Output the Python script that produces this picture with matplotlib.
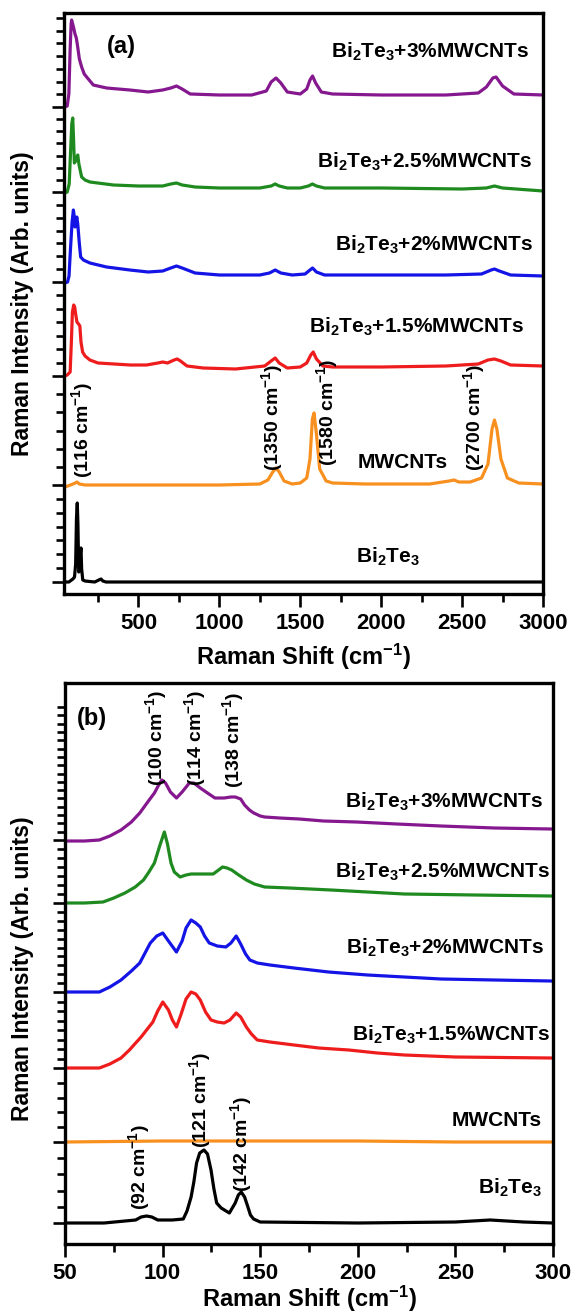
import numpy as np
import matplotlib
matplotlib.use('Agg')
import matplotlib.pyplot as plt
from matplotlib.ticker import FixedLocator, MultipleLocator

plt.rcParams['font.family'] = ['Liberation Sans', 'DejaVu Sans']
plt.rcParams['font.weight'] = 'bold'
plt.rcParams['mathtext.fontset'] = 'custom'
plt.rcParams['mathtext.rm'] = 'Liberation Sans:bold'
plt.rcParams['mathtext.it'] = 'Liberation Sans:bold'
plt.rcParams['mathtext.bf'] = 'Liberation Sans:bold'

# ---- panel (a): 40-3000 cm-1, intensities stacked (arb. units) ----
a_bi_x = [45, 70, 95, 105, 112, 117, 122, 126, 131, 137, 142, 145, 149, 156, 170, 230, 255, 269, 280, 300, 500, 1000, 1500, 2000, 2500, 3000]
a_bi_y = [12, 12, 15, 17, 30, 75, 91, 70, 22, 24, 42, 46, 25, 14, 13, 12, 14, 15, 13, 12, 12, 12, 12, 12, 12, 12]

a_cnt_x = [45, 80, 110, 120, 135, 170, 300, 600, 1000, 1250, 1300, 1330, 1350, 1370, 1400, 1450, 1500, 1540, 1560, 1575, 1585,
           1600, 1620, 1660, 1700, 1900, 2300, 2420, 2450, 2480, 2550, 2620, 2660, 2685, 2700, 2715, 2740, 2780, 2850, 3000]
a_cnt_y = [107, 109, 111, 112, 110, 109, 109, 109, 109, 110, 114, 122, 126, 122, 113, 110, 111, 116, 135, 175, 181,
           160, 125, 113, 111, 110, 110, 113, 114, 112, 112, 116, 130, 165, 174, 165, 135, 116, 111, 110]

a_15_x = [45, 60, 78, 85, 92, 100, 106, 112, 120, 130, 138, 145, 155, 170, 200, 250, 350, 450, 550, 620, 650, 680, 720, 740, 760,
          800, 900, 1100, 1280, 1320, 1345, 1370, 1420, 1500, 1540, 1565, 1580, 1600, 1640, 1700, 2000, 2400, 2600, 2660, 2700,
          2740, 2800, 3000]
a_15_y = [218, 219, 222, 250, 282, 289, 287, 280, 272, 270, 268, 252, 242, 238, 234, 231, 230, 229, 229, 231, 232, 231, 234, 235, 233,
          228, 226, 225, 228, 233, 236, 231, 226, 227, 231, 239, 242, 235, 228, 227, 227, 228, 230, 234, 235,
          233, 229, 228]

a_2_x = [45, 62, 71, 80, 90, 98, 103, 108, 114, 119, 125, 135, 143, 160, 200, 303, 447, 560, 650, 700, 735, 770, 850, 1000, 1250,
         1310, 1345, 1380, 1450, 1530, 1560, 1576, 1600, 1650, 2000, 2400, 2620, 2680, 2700, 2730, 2800, 3000]
a_2_y = [311, 312, 318, 345, 372, 384, 378, 367, 372, 377, 370, 350, 337, 334, 331, 327, 324, 322, 323, 326, 328, 326, 321, 319, 319,
         321, 324, 321, 319, 320, 324, 326, 322, 319, 319, 319, 320, 324, 325, 323, 319, 318]

a_25_x = [45, 60, 72, 80, 88, 94, 99, 104, 112, 120, 125, 132, 149, 170, 200, 345, 500, 650, 700, 735, 770, 850, 1000, 1250, 1320,
          1345, 1370, 1420, 1500, 1550, 1575, 1600, 1650, 2000, 2500, 2650, 2700, 2750, 3000]
a_25_y = [401, 402, 410, 440, 470, 476, 455, 431, 433, 437, 439, 430, 417, 414, 412, 409, 408, 408, 410, 411, 409, 407, 406, 406, 408,
          410, 408, 406, 406, 408, 410, 408, 406, 406, 405, 406, 408, 406, 403]

a_3_x = [45, 60, 70, 78, 84, 87, 92, 100, 108, 116, 122, 135, 149, 165, 180, 221, 303, 447, 560, 650, 700, 735, 770, 820, 1000,
         1200, 1290, 1320, 1350, 1380, 1420, 1500, 1540, 1560, 1576, 1595, 1630, 1700, 2000, 2400, 2600, 2650, 2690, 2710, 2750,
         2820, 3000]
a_3_y = [487, 488, 500, 545, 570, 574, 571, 566, 560, 556, 550, 535, 527, 520, 517, 509, 506, 504, 502, 504, 506, 508, 505, 500, 499,
         499, 503, 512, 516, 511, 502, 500, 505, 514, 518, 511, 502, 500, 499, 499, 501, 507, 516, 517, 508,
         500, 499]

# ---- panel (b): 50-300 cm-1 ----
b_bi_x = [50, 70, 86.2, 89, 91.8, 94.5, 97.5, 105, 110.6, 112.5, 114.6, 116, 117.4, 119, 121.2, 123, 124.8, 126.3, 127.7, 130,
          134.2, 137.2, 138.8, 140.3, 142, 143.7, 145, 146.6, 150, 200, 250, 267.8, 285, 300]
b_bi_y = [21, 21, 24, 27, 28, 27, 24, 24, 25, 33, 47, 62, 81, 91, 94, 90, 74, 55, 41, 36,
          31, 41, 49, 52, 47, 37, 29, 25, 22, 21, 22, 24, 22, 21]

b_cnt_x = [50, 100, 150, 200, 250, 300]
b_cnt_y = [102, 103, 103, 103, 102, 102]

b_15_x = [50, 60, 67.6, 73, 78.7, 83, 86.2, 89, 91.8, 95, 97.5, 100.1, 103, 105, 107.1, 109.5, 112, 114.6, 117, 119.3, 122,
          124.8, 128, 131.5, 134.5, 137.7, 140, 142.9, 145.5, 148.5, 155, 167.3, 180, 195.4, 210, 223.8, 250, 299]
b_15_y = [176, 176, 176, 180, 186, 194, 201, 207, 214, 222, 233, 242, 234, 224, 217, 230, 245, 252, 250, 244, 232,
          224, 222, 221, 224, 231, 227, 217, 210, 204, 202, 199, 196, 194, 191, 189, 187, 186]

b_2_x = [50, 60, 67.6, 73, 78.7, 84, 88.3, 91, 93.7, 97, 100.1, 103, 107.1, 110, 112, 114.6, 117, 119.3, 121.5, 123.9, 128,
         132.4, 135, 137.7, 140, 142.5, 144.7, 148.5, 155, 167.3, 185, 205, 242.6, 270, 299]
b_2_y = [252, 252, 252, 257, 264, 273, 281, 291, 301, 308, 311, 303, 292, 303, 316, 324, 321, 317, 308, 301, 298,
         297, 301, 308, 300, 290, 284, 281, 279, 276, 272, 269, 265, 264, 263]

b_25_x = [50, 60, 69.5, 75, 80.7, 86, 90.2, 93, 95.8, 98.5, 100.9, 102.5, 104.3, 106, 109, 112, 114.6, 120, 125.9, 128, 130.7,
          133, 135.4, 139, 142.9, 147, 152.3, 165, 186.2, 205, 223.8, 260, 299]
b_25_y = [341, 341, 342, 346, 351, 357, 364, 372, 381, 398, 412, 400, 381, 372, 367, 369, 370, 370, 370, 373, 377,
          376, 374, 369, 364, 360, 357, 356, 354, 352, 350, 349, 348]

b_3_x = [50, 60, 67.6, 73, 78.7, 84, 88.3, 92, 95.8, 98, 99.6, 101.5, 104, 107.1, 110, 113.7, 116, 119.3, 123, 126.8, 131.5,
         135, 137.2, 140, 142, 144.5, 146.7, 150, 152.3, 160, 170, 182.4, 199.4, 220, 242.6, 270, 299]
b_3_y = [403, 403, 404, 408, 414, 422, 431, 441, 451, 459, 464, 461, 452, 446, 452, 461, 461, 456, 451, 446, 446,
         447, 447, 445, 439, 434, 431, 428, 427, 426, 425, 423, 422, 420, 418, 416, 415]

colors = ['black', '#f7901e', '#ee1c1c', '#1414e6', '#1f8a1f', '#86188f']

fig = plt.figure(figsize=(5.74, 13.16), dpi=100)
ax_a = fig.add_axes([64 / 574, 1 - 594 / 1316, 479 / 574, 581 / 1316])
ax_b = fig.add_axes([65 / 574, 1 - 1244 / 1316, 488 / 574, 561 / 1316])

curves_a = [(a_bi_x, a_bi_y), (a_cnt_x, a_cnt_y), (a_15_x, a_15_y), (a_2_x, a_2_y), (a_25_x, a_25_y), (a_3_x, a_3_y)]
curves_b = [(b_bi_x, b_bi_y), (b_cnt_x, b_cnt_y), (b_15_x, b_15_y), (b_2_x, b_2_y), (b_25_x, b_25_y), (b_3_x, b_3_y)]

for (x, y), c in zip(curves_a, colors):
    ax_a.plot(x, y, color=c, lw=2.3, solid_joinstyle='round')
for (x, y), c in zip(curves_b, colors):
    ax_b.plot(x, y, color=c, lw=2.3, solid_joinstyle='round')

ax_a.set_xlim(40, 3000)
ax_a.set_ylim(0, 581)
ax_b.set_xlim(50, 300)
ax_b.set_ylim(0, 561)

ax_a.xaxis.set_major_locator(FixedLocator([500, 1000, 1500, 2000, 2500, 3000]))
ax_a.xaxis.set_minor_locator(MultipleLocator(250))
ax_b.xaxis.set_major_locator(MultipleLocator(50))
ax_b.xaxis.set_minor_locator(MultipleLocator(25))

# y ticks: a long tick at each curve start, evenly spaced short ones between
def seg_ticks(bounds, counts):
    t = []
    for (lo, hi), n in zip(zip(bounds[:-1], bounds[1:]), counts):
        t.extend(np.linspace(lo, hi, n + 1)[1:-1])
    return t

a_major = [12, 109, 218, 312, 402, 487]
a_minor = seg_ticks(a_major + [576], [7, 6, 7, 7, 7, 7])
b_major = [21, 102, 176, 252, 341, 404]
b_minor = seg_ticks(b_major + [537], [5, 5, 8, 10, 7, 16])

ax_a.yaxis.set_major_locator(FixedLocator(a_major))
ax_a.yaxis.set_minor_locator(FixedLocator(a_minor + [576]))
ax_b.yaxis.set_major_locator(FixedLocator(b_major))
ax_b.yaxis.set_minor_locator(FixedLocator(b_minor + [537]))

for ax in (ax_a, ax_b):
    for s in ax.spines.values():
        s.set_linewidth(2.4)
    ax.tick_params(which='major', direction='out', length=9, width=1.9, labelsize=16, pad=5)
    ax.tick_params(which='minor', direction='out', length=6, width=1.9)
    ax.tick_params(axis='y', which='both', labelleft=False)
    ax.set_xlabel('Raman Shift (cm$^{-1}$)', fontsize=17, fontweight='bold')
    ax.set_ylabel('Raman Intensity (Arb. units)', fontsize=16.5, fontweight='bold')

ax_a.xaxis.set_label_coords(0.5, -0.083)
ax_a.yaxis.set_label_coords(-0.063, 0.5)
ax_b.xaxis.set_label_coords(0.5, -0.071)
ax_b.yaxis.set_label_coords(-0.063, 0.49)

lab = 15
# panel (a) texts
ax_a.text(392, 547, '(a)', fontsize=17, ha='center', va='center')
ax_a.text(2914, 542, 'Bi$_2$Te$_3$+3%MWCNTs', fontsize=lab, ha='right', va='center')
ax_a.text(2932, 432, 'Bi$_2$Te$_3$+2.5%MWCNTs', fontsize=lab, ha='right', va='center')
ax_a.text(2939, 349, 'Bi$_2$Te$_3$+2%MWCNTs', fontsize=lab, ha='right', va='center')
ax_a.text(2883, 267, 'Bi$_2$Te$_3$+1.5%MWCNTs', fontsize=lab, ha='right', va='center')
ax_a.text(2135, 132, 'MWCNTs', fontsize=lab, ha='center', va='center')
ax_a.text(2042, 37, 'Bi$_2$Te$_3$', fontsize=lab, ha='center', va='center')

ann = 14
for xx, yy, s in [(151, 164, '(116 cm$^{-1}$)'), (1325, 177, '(1350 cm$^{-1}$)'),
                  (1666, 182, '(1580 cm$^{-1}$)'), (2574, 177, '(2700 cm$^{-1}$)')]:
    ax_a.text(xx, yy, s, fontsize=ann, rotation=90, ha='center', va='center')

# panel (b) texts
ax_b.text(63.8, 526, '(b)', fontsize=17, ha='center', va='center')
ax_b.text(294.9, 442, 'Bi$_2$Te$_3$+3%MWCNTs', fontsize=lab, ha='right', va='center')
ax_b.text(298.5, 372, 'Bi$_2$Te$_3$+2.5%MWCNTs', fontsize=lab, ha='right', va='center')
ax_b.text(295.4, 296, 'Bi$_2$Te$_3$+2%MWCNTs', fontsize=lab, ha='right', va='center')
ax_b.text(298.5, 209, 'Bi$_2$Te$_3$+1.5%WCNTs', fontsize=lab, ha='right', va='center')
ax_b.text(294.4, 124, 'MWCNTs', fontsize=lab, ha='right', va='center')
ax_b.text(294.4, 56, 'Bi$_2$Te$_3$', fontsize=lab, ha='right', va='center')

for xx, yy, s in [(96.7, 506, '(100 cm$^{-1}$)'), (116.5, 506, '(114 cm$^{-1}$)'), (136.3, 504, '(138 cm$^{-1}$)'),
                  (87.9, 77, '(92 cm$^{-1}$)'), (119.3, 144, '(121 cm$^{-1}$)'), (140, 100, '(142 cm$^{-1}$)')]:
    ax_b.text(xx, yy, s, fontsize=ann, rotation=90, ha='center', va='center')

fig.savefig('out.png', dpi=100)
